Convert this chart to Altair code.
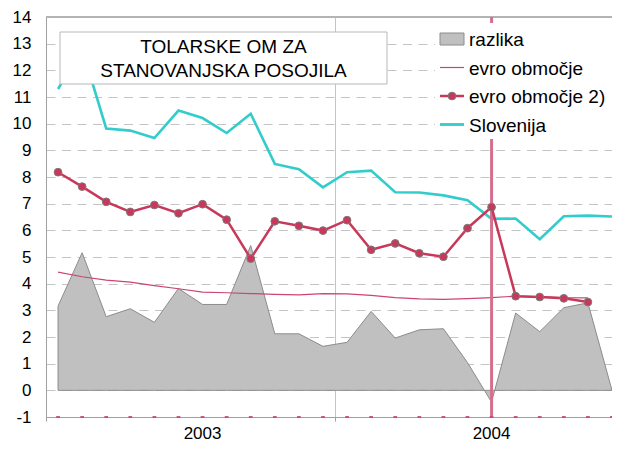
import altair as alt
import pandas as pd

# ---- data ----
month_idx = list(range(24))  # Jan 2003 .. Dec 2004 (monthly)
razlika = [3.16, 5.16, 2.76, 3.06, 2.55, 3.82, 3.22, 3.22, 5.43, 2.12, 2.12, 1.65,
           1.80, 2.96, 1.96, 2.27, 2.31, 1.04, -0.44, 2.90, 2.20, 3.10, 3.28, 0.0]
evro = [4.43, 4.26, 4.13, 4.06, 3.93, 3.81, 3.68, 3.66, 3.63, 3.60, 3.58, 3.63,
        3.62, 3.56, 3.48, 3.43, 3.41, 3.44, 3.48, 3.53, 3.51, 3.48, 3.47, None]
evro2 = [8.18, 7.64, 7.07, 6.69, 6.95, 6.64, 6.98, 6.40, 4.94, 6.34, 6.17, 5.99,
         6.38, 5.27, 5.51, 5.14, 5.01, 6.08, 6.87, 3.53, 3.50, 3.45, 3.31, None]
slovenija = [11.30, 12.80, 9.82, 9.74, 9.46, 10.49, 10.21, 9.65, 10.37, 8.49, 8.29, 7.61,
             8.18, 8.24, 7.43, 7.42, 7.31, 7.13, 6.43, 6.44, 5.67, 6.53, 6.55, 6.52]
year_labels = ["2003", "2004"]
year_label_pos = [6, 18]
year_break = [-0.5, 11.5]
marker_month = [18]
series_names = ["razlika", "evro območje", "evro območje 2)", "Slovenija"]
title_lines = ["TOLARSKE OM ZA", "STANOVANJSKA POSOJILA"]
y_ticks = list(range(-1, 15))

FONT = "Liberation Sans"
PINK = "#c8385a"
THIN = "#cc4470"
TEAL = "#33cccc"

df = pd.DataFrame({"m": month_idx, "razlika": razlika, "evro": evro,
                   "evro2": evro2, "slo": slovenija})
years = pd.DataFrame({"m": year_label_pos, "label": year_labels})

xs = alt.Scale(domain=[-0.5, 23.0], nice=False, zero=False)
ys = alt.Scale(domain=[-1, 14], nice=False, zero=False)

x_axis = alt.Axis(
    values=year_break, labels=False, title=None, grid=True, gridColor="#c4c4c4",
    ticks=True, tickSize=4, tickColor="#a0a0a0", domainColor="#a0a0a0",
)
y_axis = alt.Axis(
    values=y_ticks, labelExpr="'' + datum.value", title=None, ticks=False,
    labelPadding=15, labelFont=FONT, labelFontSize=17, labelColor="black",
    domainColor="#a0a0a0", grid=True,
    gridColor={"condition": {"test": "datum.value == -1 || datum.value == 14",
                             "value": "transparent"}, "value": "#c4c4c4"},
    gridDash=[9, 6.5],
)

# every layer carries the same axis definitions (an axis=None in one layer drops the shared axis)
xa = alt.X("m:Q", scale=xs, axis=x_axis)


def ya(field):
    return alt.Y(field, type="quantitative", scale=ys, axis=y_axis)


area = alt.Chart(df).mark_area(fill="#c0c0c0", stroke="#8c8c8c", strokeWidth=1).encode(
    x=xa, y=ya("razlika")
)
top_frame = alt.Chart(df).mark_rule(color="#b4b4b4", strokeWidth=2).encode(
    y=alt.YDatum(14, scale=ys, axis=y_axis)
)
year_text = alt.Chart(years).mark_text(
    font=FONT, fontSize=17, color="black", align="center", baseline="alphabetic"
).encode(x=xa, y=alt.value(422), text="label:N")

slo_line = alt.Chart(df).mark_line(color=TEAL, strokeWidth=2.6).encode(x=xa, y=ya("slo"))
evro_line = alt.Chart(df).mark_line(color=THIN, strokeWidth=1.2).encode(x=xa, y=ya("evro"))

one = pd.DataFrame({"k": [0]})
title_box = alt.Chart(one).mark_rect(fill="white", stroke="#b8b8b8", strokeWidth=1).encode(
    x=alt.value(14), x2=alt.value(341), y=alt.value(15), y2=alt.value(67)
)
title_text = alt.Chart(one).mark_text(
    text=title_lines, font=FONT, fontSize=19, lineHeight=24, align="center",
    baseline="alphabetic", color="black"
).encode(x=alt.value(177.5), y=alt.value(36.3))

vrule = alt.Chart(pd.DataFrame({"m": marker_month})).mark_rule(
    color="#d4708e", strokeWidth=3
).encode(x=xa, y=alt.YDatum(-1, scale=ys, axis=y_axis), y2=alt.Y2Datum(14))

evro2_line = alt.Chart(df).mark_line(color=PINK, strokeWidth=2.5).encode(x=xa, y=ya("evro2"))
evro2_pts = alt.Chart(df).mark_circle(
    fill=PINK, stroke="#7a7a7a", strokeWidth=1, size=60, opacity=1
).encode(x=xa, y=ya("evro2"))

axis_marks = alt.Chart(df).mark_point(
    shape="M-1,-0.5H1V0.5H-1Z", size=14, filled=True, fill="#c84a78",
    strokeWidth=0, opacity=1
).encode(x=xa, y=alt.YDatum(-1, scale=ys, axis=y_axis))

# ---- legend (drawn as a small key box) ----
LX0, LX1 = 394, 418          # symbol extent (px in plot)
rows = [22, 50.5, 79, 107.5]  # row centres (px in plot)
leg_bg = alt.Chart(one).mark_rect(fill="white").encode(
    x=alt.value(389), x2=alt.value(566), y=alt.value(6), y2=alt.value(122)
)
leg_razlika = alt.Chart(one).mark_rect(fill="#c0c0c0", stroke="#8c8c8c", strokeWidth=1).encode(
    x=alt.value(LX0), x2=alt.value(LX1), y=alt.value(rows[0] - 6), y2=alt.value(rows[0] + 6)
)
leg_evro = alt.Chart(one).mark_rule(color=THIN, strokeWidth=1.2).encode(
    x=alt.value(LX0), x2=alt.value(LX1), y=alt.value(rows[1])
)
leg_evro2 = alt.Chart(one).mark_rule(color=PINK, strokeWidth=2.5).encode(
    x=alt.value(LX0), x2=alt.value(LX1), y=alt.value(rows[2])
)
leg_evro2_pt = alt.Chart(one).mark_circle(
    fill=PINK, stroke="#7a7a7a", strokeWidth=1, size=60, opacity=1
).encode(x=alt.value((LX0 + LX1) / 2), y=alt.value(rows[2]))
leg_slo = alt.Chart(one).mark_rule(color=TEAL, strokeWidth=2.8).encode(
    x=alt.value(LX0), x2=alt.value(LX1), y=alt.value(rows[3])
)
leg_labels = [
    alt.Chart(one).mark_text(
        text=name, font=FONT, fontSize=19, align="left", baseline="middle", color="black"
    ).encode(x=alt.value(LX1 + 5), y=alt.value(r + 1))
    for name, r in zip(series_names, rows)
]

chart = alt.layer(
    area, top_frame, year_text, slo_line, evro_line, title_box, title_text, vrule,
    evro2_line, evro2_pts, axis_marks,
    leg_bg, leg_razlika, leg_evro, leg_evro2, leg_evro2_pt, leg_slo, *leg_labels
).properties(
    width=566, height=400,
    padding={"left": 38, "top": 9, "right": 0, "bottom": 28},
    autosize=alt.AutoSizeParams(type="none"),
).configure_view(stroke=None)

chart.save("out.html", embed_options={"renderer": "svg", "actions": False})
